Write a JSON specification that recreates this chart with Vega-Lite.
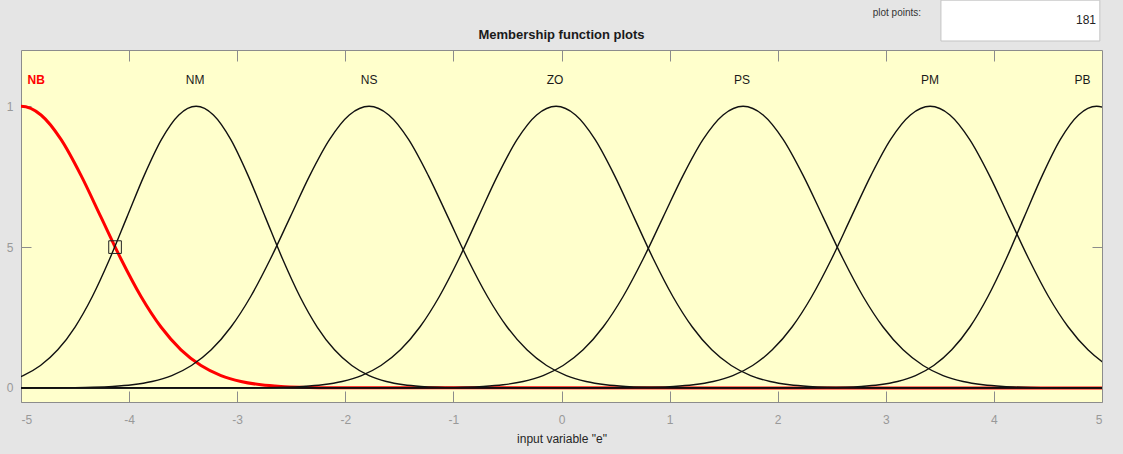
{
  "$schema": "https://vega.github.io/schema/vega-lite/v6.json",
  "width": 1081,
  "height": 352,
  "autosize": {"type": "none"},
  "padding": {"left": 21, "top": 50, "right": 21, "bottom": 52},
  "background": "#e5e5e5",
  "config": {
    "font": "Liberation Sans",
    "view": {"fill": "#ffffcc", "stroke": "#8c8c8c", "strokeWidth": 1}
  },
  "title": {"text": "Membership function plots", "fontSize": 13, "fontWeight": "bold", "color": "#1a1a1a", "offset": 7, "dy": 49, "anchor": "middle", "frame": "group", "font": "Liberation Sans"},
  "datasets": {
    "curves": [
      {"mf": "NB", "x": -5.37, "y": 0.8825}, {"mf": "NB", "x": -5.185, "y": 0.9692}, {"mf": "NB", "x": -5, "y": 1}, {"mf": "NB", "x": -4.815, "y": 0.9692}, {"mf": "NB", "x": -4.63, "y": 0.8825}, {"mf": "NB", "x": -4.445, "y": 0.7548}, {"mf": "NB", "x": -4.26, "y": 0.6065}, {"mf": "NB", "x": -4.075, "y": 0.4578}, {"mf": "NB", "x": -3.89, "y": 0.3247}, {"mf": "NB", "x": -3.705, "y": 0.2163}, {"mf": "NB", "x": -3.52, "y": 0.1353}, {"mf": "NB", "x": -3.335, "y": 0.0796}, {"mf": "NB", "x": -3.15, "y": 0.0439}, {"mf": "NB", "x": -2.965, "y": 0.0228}, {"mf": "NB", "x": -2.78, "y": 0.0111}, {"mf": "NB", "x": -2.595, "y": 0.0051}, {"mf": "NB", "x": -2.41, "y": 0.0022}, {"mf": "NB", "x": -2.225, "y": 0.0009}, {"mf": "NB", "x": -2.04, "y": 0.0003}, {"mf": "NB", "x": 5.5, "y": 0},
      {"mf": "NM", "x": -5.3, "y": 0.0111}, {"mf": "NM", "x": -5.14, "y": 0.0228}, {"mf": "NM", "x": -4.98, "y": 0.0439}, {"mf": "NM", "x": -4.82, "y": 0.0796}, {"mf": "NM", "x": -4.66, "y": 0.1353}, {"mf": "NM", "x": -4.5, "y": 0.2163}, {"mf": "NM", "x": -4.34, "y": 0.3247}, {"mf": "NM", "x": -4.18, "y": 0.4578}, {"mf": "NM", "x": -4.02, "y": 0.6065}, {"mf": "NM", "x": -3.86, "y": 0.7548}, {"mf": "NM", "x": -3.7, "y": 0.8825}, {"mf": "NM", "x": -3.54, "y": 0.9692}, {"mf": "NM", "x": -3.38, "y": 1}, {"mf": "NM", "x": -3.22, "y": 0.9692}, {"mf": "NM", "x": -3.06, "y": 0.8825}, {"mf": "NM", "x": -2.9, "y": 0.7548}, {"mf": "NM", "x": -2.74, "y": 0.6065}, {"mf": "NM", "x": -2.58, "y": 0.4578}, {"mf": "NM", "x": -2.42, "y": 0.3247}, {"mf": "NM", "x": -2.26, "y": 0.2163}, {"mf": "NM", "x": -2.1, "y": 0.1353}, {"mf": "NM", "x": -1.94, "y": 0.0796}, {"mf": "NM", "x": -1.78, "y": 0.0439}, {"mf": "NM", "x": -1.62, "y": 0.0228}, {"mf": "NM", "x": -1.46, "y": 0.0111}, {"mf": "NM", "x": -1.3, "y": 0.0051}, {"mf": "NM", "x": -1.14, "y": 0.0022}, {"mf": "NM", "x": -0.98, "y": 0.0009}, {"mf": "NM", "x": -0.82, "y": 0.0003}, {"mf": "NM", "x": 5.5, "y": 0},
      {"mf": "NS", "x": -5.5, "y": 0}, {"mf": "NS", "x": -4.7, "y": 0.0003}, {"mf": "NS", "x": -4.518, "y": 0.0009}, {"mf": "NS", "x": -4.335, "y": 0.0022}, {"mf": "NS", "x": -4.153, "y": 0.0051}, {"mf": "NS", "x": -3.97, "y": 0.0111}, {"mf": "NS", "x": -3.788, "y": 0.0228}, {"mf": "NS", "x": -3.605, "y": 0.0439}, {"mf": "NS", "x": -3.423, "y": 0.0796}, {"mf": "NS", "x": -3.24, "y": 0.1353}, {"mf": "NS", "x": -3.058, "y": 0.2163}, {"mf": "NS", "x": -2.875, "y": 0.3247}, {"mf": "NS", "x": -2.693, "y": 0.4578}, {"mf": "NS", "x": -2.51, "y": 0.6065}, {"mf": "NS", "x": -2.328, "y": 0.7548}, {"mf": "NS", "x": -2.145, "y": 0.8825}, {"mf": "NS", "x": -1.963, "y": 0.9692}, {"mf": "NS", "x": -1.78, "y": 1}, {"mf": "NS", "x": -1.598, "y": 0.9692}, {"mf": "NS", "x": -1.415, "y": 0.8825}, {"mf": "NS", "x": -1.233, "y": 0.7548}, {"mf": "NS", "x": -1.05, "y": 0.6065}, {"mf": "NS", "x": -0.868, "y": 0.4578}, {"mf": "NS", "x": -0.685, "y": 0.3247}, {"mf": "NS", "x": -0.503, "y": 0.2163}, {"mf": "NS", "x": -0.32, "y": 0.1353}, {"mf": "NS", "x": -0.138, "y": 0.0796}, {"mf": "NS", "x": 0.045, "y": 0.0439}, {"mf": "NS", "x": 0.228, "y": 0.0228}, {"mf": "NS", "x": 0.41, "y": 0.0111}, {"mf": "NS", "x": 0.593, "y": 0.0051}, {"mf": "NS", "x": 0.775, "y": 0.0022}, {"mf": "NS", "x": 0.958, "y": 0.0009}, {"mf": "NS", "x": 1.14, "y": 0.0003}, {"mf": "NS", "x": 5.5, "y": 0},
      {"mf": "ZO", "x": -5.5, "y": 0}, {"mf": "ZO", "x": -2.93, "y": 0.0003}, {"mf": "ZO", "x": -2.75, "y": 0.0009}, {"mf": "ZO", "x": -2.57, "y": 0.0022}, {"mf": "ZO", "x": -2.39, "y": 0.0051}, {"mf": "ZO", "x": -2.21, "y": 0.0111}, {"mf": "ZO", "x": -2.03, "y": 0.0228}, {"mf": "ZO", "x": -1.85, "y": 0.0439}, {"mf": "ZO", "x": -1.67, "y": 0.0796}, {"mf": "ZO", "x": -1.49, "y": 0.1353}, {"mf": "ZO", "x": -1.31, "y": 0.2163}, {"mf": "ZO", "x": -1.13, "y": 0.3247}, {"mf": "ZO", "x": -0.95, "y": 0.4578}, {"mf": "ZO", "x": -0.77, "y": 0.6065}, {"mf": "ZO", "x": -0.59, "y": 0.7548}, {"mf": "ZO", "x": -0.41, "y": 0.8825}, {"mf": "ZO", "x": -0.23, "y": 0.9692}, {"mf": "ZO", "x": -0.05, "y": 1}, {"mf": "ZO", "x": 0.13, "y": 0.9692}, {"mf": "ZO", "x": 0.31, "y": 0.8825}, {"mf": "ZO", "x": 0.49, "y": 0.7548}, {"mf": "ZO", "x": 0.67, "y": 0.6065}, {"mf": "ZO", "x": 0.85, "y": 0.4578}, {"mf": "ZO", "x": 1.03, "y": 0.3247}, {"mf": "ZO", "x": 1.21, "y": 0.2163}, {"mf": "ZO", "x": 1.39, "y": 0.1353}, {"mf": "ZO", "x": 1.57, "y": 0.0796}, {"mf": "ZO", "x": 1.75, "y": 0.0439}, {"mf": "ZO", "x": 1.93, "y": 0.0228}, {"mf": "ZO", "x": 2.11, "y": 0.0111}, {"mf": "ZO", "x": 2.29, "y": 0.0051}, {"mf": "ZO", "x": 2.47, "y": 0.0022}, {"mf": "ZO", "x": 2.65, "y": 0.0009}, {"mf": "ZO", "x": 2.83, "y": 0.0003}, {"mf": "ZO", "x": 5.5, "y": 0},
      {"mf": "PS", "x": -5.5, "y": 0}, {"mf": "PS", "x": -1.28, "y": 0.0003}, {"mf": "PS", "x": -1.095, "y": 0.0009}, {"mf": "PS", "x": -0.91, "y": 0.0022}, {"mf": "PS", "x": -0.725, "y": 0.0051}, {"mf": "PS", "x": -0.54, "y": 0.0111}, {"mf": "PS", "x": -0.355, "y": 0.0228}, {"mf": "PS", "x": -0.17, "y": 0.0439}, {"mf": "PS", "x": 0.015, "y": 0.0796}, {"mf": "PS", "x": 0.2, "y": 0.1353}, {"mf": "PS", "x": 0.385, "y": 0.2163}, {"mf": "PS", "x": 0.57, "y": 0.3247}, {"mf": "PS", "x": 0.755, "y": 0.4578}, {"mf": "PS", "x": 0.94, "y": 0.6065}, {"mf": "PS", "x": 1.125, "y": 0.7548}, {"mf": "PS", "x": 1.31, "y": 0.8825}, {"mf": "PS", "x": 1.495, "y": 0.9692}, {"mf": "PS", "x": 1.68, "y": 1}, {"mf": "PS", "x": 1.865, "y": 0.9692}, {"mf": "PS", "x": 2.05, "y": 0.8825}, {"mf": "PS", "x": 2.235, "y": 0.7548}, {"mf": "PS", "x": 2.42, "y": 0.6065}, {"mf": "PS", "x": 2.605, "y": 0.4578}, {"mf": "PS", "x": 2.79, "y": 0.3247}, {"mf": "PS", "x": 2.975, "y": 0.2163}, {"mf": "PS", "x": 3.16, "y": 0.1353}, {"mf": "PS", "x": 3.345, "y": 0.0796}, {"mf": "PS", "x": 3.53, "y": 0.0439}, {"mf": "PS", "x": 3.715, "y": 0.0228}, {"mf": "PS", "x": 3.9, "y": 0.0111}, {"mf": "PS", "x": 4.085, "y": 0.0051}, {"mf": "PS", "x": 4.27, "y": 0.0022}, {"mf": "PS", "x": 4.455, "y": 0.0009}, {"mf": "PS", "x": 4.64, "y": 0.0003}, {"mf": "PS", "x": 5.5, "y": 0},
      {"mf": "PM", "x": -5.5, "y": 0}, {"mf": "PM", "x": 0.49, "y": 0.0003}, {"mf": "PM", "x": 0.673, "y": 0.0009}, {"mf": "PM", "x": 0.855, "y": 0.0022}, {"mf": "PM", "x": 1.038, "y": 0.0051}, {"mf": "PM", "x": 1.22, "y": 0.0111}, {"mf": "PM", "x": 1.403, "y": 0.0228}, {"mf": "PM", "x": 1.585, "y": 0.0439}, {"mf": "PM", "x": 1.768, "y": 0.0796}, {"mf": "PM", "x": 1.95, "y": 0.1353}, {"mf": "PM", "x": 2.133, "y": 0.2163}, {"mf": "PM", "x": 2.315, "y": 0.3247}, {"mf": "PM", "x": 2.498, "y": 0.4578}, {"mf": "PM", "x": 2.68, "y": 0.6065}, {"mf": "PM", "x": 2.863, "y": 0.7548}, {"mf": "PM", "x": 3.045, "y": 0.8825}, {"mf": "PM", "x": 3.228, "y": 0.9692}, {"mf": "PM", "x": 3.41, "y": 1}, {"mf": "PM", "x": 3.593, "y": 0.9692}, {"mf": "PM", "x": 3.775, "y": 0.8825}, {"mf": "PM", "x": 3.958, "y": 0.7548}, {"mf": "PM", "x": 4.14, "y": 0.6065}, {"mf": "PM", "x": 4.323, "y": 0.4578}, {"mf": "PM", "x": 4.505, "y": 0.3247}, {"mf": "PM", "x": 4.688, "y": 0.2163}, {"mf": "PM", "x": 4.87, "y": 0.1353}, {"mf": "PM", "x": 5.053, "y": 0.0796}, {"mf": "PM", "x": 5.235, "y": 0.0439}, {"mf": "PM", "x": 5.418, "y": 0.0228},
      {"mf": "PB", "x": -5.5, "y": 0}, {"mf": "PB", "x": 2.27, "y": 0.0003}, {"mf": "PB", "x": 2.438, "y": 0.0009}, {"mf": "PB", "x": 2.605, "y": 0.0022}, {"mf": "PB", "x": 2.773, "y": 0.0051}, {"mf": "PB", "x": 2.94, "y": 0.0111}, {"mf": "PB", "x": 3.108, "y": 0.0228}, {"mf": "PB", "x": 3.275, "y": 0.0439}, {"mf": "PB", "x": 3.443, "y": 0.0796}, {"mf": "PB", "x": 3.61, "y": 0.1353}, {"mf": "PB", "x": 3.778, "y": 0.2163}, {"mf": "PB", "x": 3.945, "y": 0.3247}, {"mf": "PB", "x": 4.113, "y": 0.4578}, {"mf": "PB", "x": 4.28, "y": 0.6065}, {"mf": "PB", "x": 4.448, "y": 0.7548}, {"mf": "PB", "x": 4.615, "y": 0.8825}, {"mf": "PB", "x": 4.783, "y": 0.9692}, {"mf": "PB", "x": 4.95, "y": 1}, {"mf": "PB", "x": 5.118, "y": 0.9692}, {"mf": "PB", "x": 5.285, "y": 0.8825}
    ],
    "labels": [
      {"mf": "NB", "lx": -4.86}, {"mf": "NM", "lx": -3.39}, {"mf": "NS", "lx": -1.78}, {"mf": "ZO", "lx": -0.06}, {"mf": "PS", "lx": 1.67}, {"mf": "PM", "lx": 3.41}, {"mf": "PB", "lx": 4.82}
    ],
    "marker": [{"x": -4.13, "y": 0.5}],
    "box": [{"label": "plot points:", "value": "181"}]
  },
  "resolve": {"axis": {"x": "independent", "y": "independent"}},
  "layer": [
    {
      "data": {"name": "curves"},
      "transform": [{"filter": "datum.mf === 'NB'"}],
      "mark": {"type": "line", "color": "#ff0000", "strokeWidth": 3, "clip": true, "interpolate": "monotone"},
      "encoding": {
        "x": {"field": "x", "type": "quantitative", "scale": {"domain": [-5, 5], "nice": false, "zero": false},
          "axis": {"orient": "bottom", "values": [-5, -4, -3, -2, -1, 0, 1, 2, 3, 4, 5], "labelExpr": "(datum.value < 0 ? '-' : '') + abs(datum.value)", "tickSize": -11, "tickColor": "#8c8c8c", "domain": false, "grid": false, "labelColor": "#999999", "labelFontSize": 12, "labelPadding": 23, "labelFont": "Liberation Sans", "title": "input variable \"e\"", "titleColor": "#262626", "titleFontSize": 12, "titleFontWeight": "normal", "titleFont": "Liberation Sans", "titlePadding": 8}},
        "y": {"field": "y", "type": "quantitative", "scale": {"domain": [-0.05, 1.2], "nice": false, "zero": false},
          "axis": {"orient": "left", "values": [0, 0.5, 1], "labelExpr": "datum.value == 0.5 ? '5' : (datum.value == 1 ? '1' : '0')", "tickSize": -10, "tickColor": "#8c8c8c", "domain": false, "grid": false, "labelColor": "#999999", "labelFontSize": 12, "labelPadding": 18, "labelFont": "Liberation Sans", "title": null}}
      }
    },
    {
      "data": {"name": "curves"},
      "transform": [{"filter": "datum.mf !== 'NB'"}],
      "mark": {"type": "line", "color": "#111111", "strokeWidth": 1.4, "clip": true, "interpolate": "monotone"},
      "encoding": {
        "x": {"field": "x", "type": "quantitative",
          "axis": {"orient": "top", "values": [-4, -3, -2, -1, 0, 1, 2, 3, 4], "tickSize": -11, "tickColor": "#8c8c8c", "domain": false, "grid": false, "labels": false, "title": null}},
        "y": {"field": "y", "type": "quantitative",
          "axis": {"orient": "right", "values": [0, 0.5, 1], "tickSize": -10, "tickColor": "#8c8c8c", "domain": false, "grid": false, "labels": false, "title": null}},
        "detail": {"field": "mf", "type": "nominal"}
      }
    },
    {
      "data": {"name": "marker"},
      "mark": {"type": "point", "shape": "square", "size": 160, "filled": false, "stroke": "#222222", "strokeWidth": 1, "opacity": 1},
      "encoding": {
        "x": {"field": "x", "type": "quantitative", "axis": null},
        "y": {"field": "y", "type": "quantitative", "axis": null}
      }
    },
    {
      "data": {"name": "labels"},
      "transform": [{"filter": "datum.mf === 'NB'"}],
      "mark": {"type": "text", "color": "#ff0000", "fontWeight": "bold", "fontSize": 12, "baseline": "middle", "align": "center", "font": "Liberation Sans"},
      "encoding": {
        "x": {"field": "lx", "type": "quantitative", "axis": null},
        "y": {"datum": 1.093, "type": "quantitative", "axis": null},
        "text": {"field": "mf"}
      }
    },
    {
      "data": {"name": "labels"},
      "transform": [{"filter": "datum.mf !== 'NB'"}],
      "mark": {"type": "text", "color": "#1a1a1a", "fontSize": 12, "baseline": "middle", "align": "center", "font": "Liberation Sans"},
      "encoding": {
        "x": {"field": "lx", "type": "quantitative", "axis": null},
        "y": {"datum": 1.093, "type": "quantitative", "axis": null},
        "text": {"field": "mf"}
      }
    },
    {
      "data": {"name": "box"},
      "mark": {"type": "rect", "fill": "#ffffff", "stroke": "#c4c4c4", "strokeWidth": 1, "clip": false},
      "encoding": {
        "x": {"datum": 3.51, "type": "quantitative", "axis": null},
        "x2": {"datum": 4.98},
        "y": {"datum": 1.377, "type": "quantitative", "axis": null},
        "y2": {"datum": 1.232}
      }
    },
    {
      "data": {"name": "box"},
      "mark": {"type": "text", "color": "#333333", "fontSize": 10, "align": "right", "baseline": "middle", "font": "Liberation Sans"},
      "encoding": {
        "x": {"datum": 3.326, "type": "quantitative", "axis": null},
        "y": {"datum": 1.33, "type": "quantitative", "axis": null},
        "text": {"field": "label"}
      }
    },
    {
      "data": {"name": "box"},
      "mark": {"type": "text", "color": "#222222", "fontSize": 12, "align": "right", "baseline": "middle", "font": "Liberation Sans"},
      "encoding": {
        "x": {"datum": 4.945, "type": "quantitative", "axis": null},
        "y": {"datum": 1.306, "type": "quantitative", "axis": null},
        "text": {"field": "value"}
      }
    }
  ]
}
